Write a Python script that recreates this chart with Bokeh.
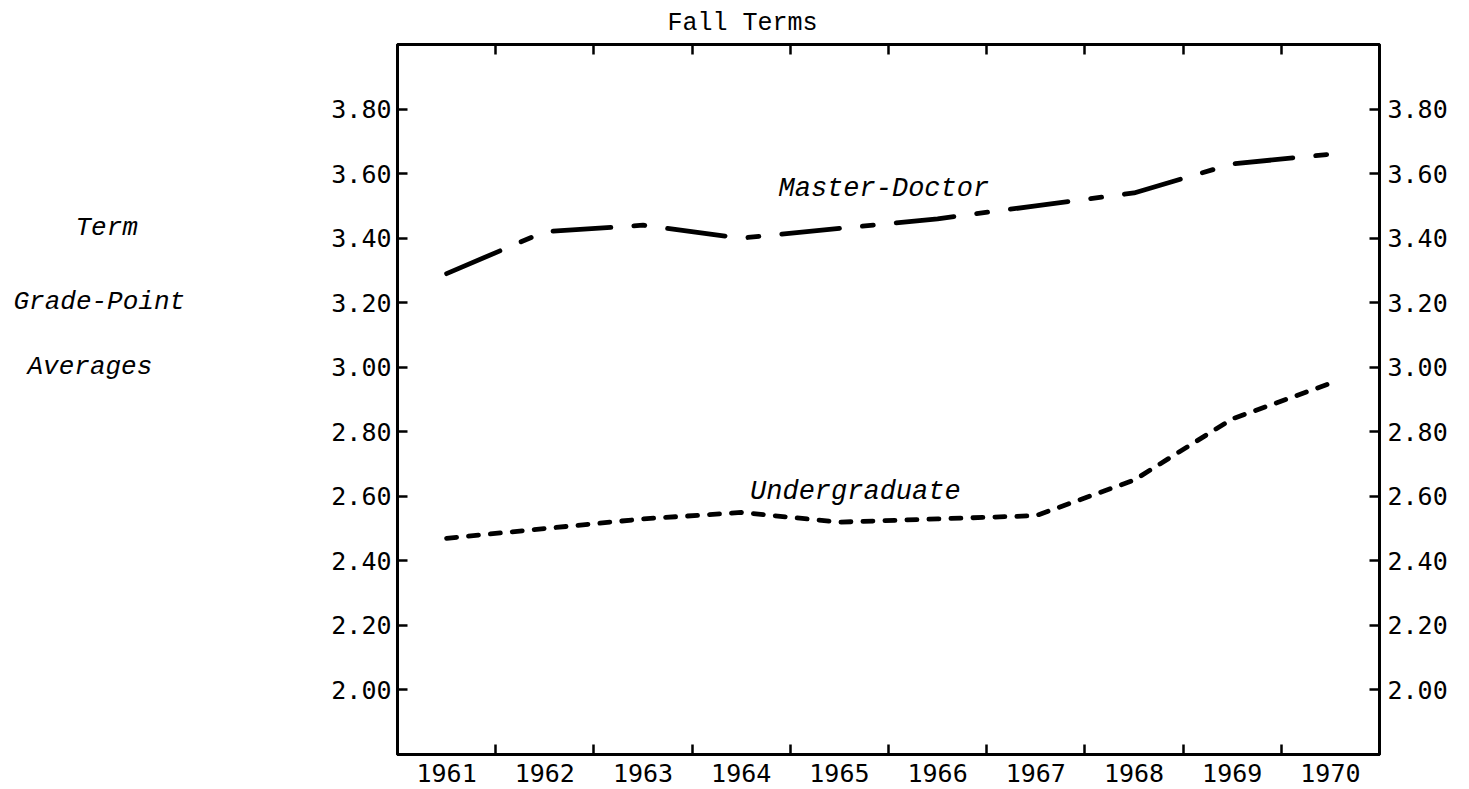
from bokeh.plotting import figure
from bokeh.layouts import row
from bokeh.models import FixedTicker, LinearAxis, Label, Range1d
from bokeh.embed import file_html
from bokeh.resources import INLINE

# ---- data ----
years = [1961, 1962, 1963, 1964, 1965, 1966, 1967, 1968, 1969, 1970]
year_labels = ["1961", "1962", "1963", "1964", "1965", "1966", "1967", "1968", "1969", "1970"]
master_doctor = [3.29, 3.42, 3.44, 3.40, 3.43, 3.46, 3.50, 3.54, 3.63, 3.66]
undergraduate = [2.47, 2.50, 2.53, 2.55, 2.52, 2.53, 2.54, 2.65, 2.84, 2.95]
gpa_ticks = [2.0, 2.2, 2.4, 2.6, 2.8, 3.0, 3.2, 3.4, 3.6, 3.8]
gpa_labels = ["2.00", "2.20", "2.40", "2.60", "2.80", "3.00", "3.20", "3.40", "3.60", "3.80"]
title_text = "Fall Terms"
y_title_lines = ["Term", "Grade-Point", "Averages"]
series_names = ["Master-Doctor", "Undergraduate"]

# band boundaries between the years (tick marks)
boundaries = [y + 0.5 for y in years[:-1]]

TICK_FONT = "DejaVu Sans Mono"
TYPE_FONT = "Liberation Mono"

TOTAL_W, H = 1469, 789
LEFT_W = 320
TOP, BOTTOM = 43, 35

y_range = Range1d(1.8, 4.0)

# ---- left panel holding the stacked y-axis caption ----
side = figure(width=LEFT_W, height=H, output_backend="svg", toolbar_location=None,
              x_range=Range1d(0, LEFT_W), y_range=y_range,
              x_axis_location=None, y_axis_location=None,
              min_border_left=0, min_border_right=0,
              min_border_top=TOP, min_border_bottom=BOTTOM,
              background_fill_color="white", border_fill_color="white")
side.outline_line_color = None
side.xgrid.visible = False
side.ygrid.visible = False
y_title_x = [75, 13, 27]
y_title_y = [3.431, 3.203, 3.0]
for t, xx, yy in zip(y_title_lines, y_title_x, y_title_y):
    side.add_layout(Label(x=xx, y=yy, text=t, text_font=TYPE_FONT,
                          text_font_size="26px", text_font_style="italic", text_color="black",
                          text_baseline="alphabetic", text_align="left"))

# ---- main chart ----
p = figure(width=TOTAL_W - LEFT_W, height=H, output_backend="svg", toolbar_location=None,
           x_range=Range1d(years[0] - 0.5, years[-1] + 0.5), y_range=y_range,
           min_border_left=397 - LEFT_W, min_border_right=TOTAL_W - 1379,
           min_border_top=TOP, min_border_bottom=BOTTOM,
           background_fill_color="white", border_fill_color="white")
p.xgrid.visible = False
p.ygrid.visible = False
p.outline_line_color = "black"
p.outline_line_width = 3

p.title.text = title_text
p.title.align = "left"
p.title.offset = 270
p.title.text_font = TYPE_FONT
p.title.text_font_size = "25px"
p.title.text_font_style = "normal"
p.title.text_color = "black"
p.title.standoff = 13


def base_style(ax):
    ax.axis_line_color = "black"
    ax.axis_line_width = 3
    ax.major_tick_in = 10
    ax.major_tick_out = 0
    ax.major_tick_line_width = 2.5
    ax.major_tick_line_color = "black"
    ax.minor_tick_line_color = None
    ax.major_label_text_font = TICK_FONT
    ax.major_label_text_font_size = "25px"
    ax.major_label_text_color = "black"


# bottom axis: labels at years, tick marks at band boundaries (minor ticks)
xb = p.xaxis[0]
xb.ticker = FixedTicker(ticks=years, minor_ticks=boundaries)
base_style(xb)
xb.major_tick_line_color = None
xb.minor_tick_line_color = "black"
xb.minor_tick_line_width = 2.5
xb.minor_tick_in = 10
xb.minor_tick_out = 0
xb.major_label_overrides = dict(zip(years, year_labels))
xb.major_label_standoff = 9
xb.major_label_text_line_height = 0.9

# top axis: tick marks only
xt = LinearAxis(ticker=FixedTicker(ticks=boundaries))
base_style(xt)
xt.major_label_text_font_size = "0px"
xt.major_label_overrides = {b: "" for b in boundaries}
xt.major_label_standoff = 0
p.add_layout(xt, "above")

# left axis
yl = p.yaxis[0]
yl.ticker = FixedTicker(ticks=gpa_ticks)
base_style(yl)
yl.major_label_overrides = dict(zip(gpa_ticks, gpa_labels))
yl.major_label_standoff = 6

# right axis
yr = LinearAxis(ticker=FixedTicker(ticks=gpa_ticks))
base_style(yr)
yr.major_label_overrides = dict(zip(gpa_ticks, gpa_labels))
yr.major_label_standoff = 8
p.add_layout(yr, "right")

# series
p.line(years, master_doctor, line_color="black", line_width=4.8,
       line_dash="58 23 11 23", line_cap="round", line_join="round")
p.line(years, undergraduate, line_color="black", line_width=4.8,
       line_dash="10 12", line_cap="round", line_join="round")

# series names
p.add_layout(Label(x=1964.38, y=3.552, text=series_names[0], text_font=TYPE_FONT,
                   text_font_size="27px", text_font_style="italic", text_color="black",
                   text_baseline="alphabetic", text_align="left"))
p.add_layout(Label(x=1964.09, y=2.613, text=series_names[1], text_font=TYPE_FONT,
                   text_font_size="27px", text_font_style="italic", text_color="black",
                   text_baseline="alphabetic", text_align="left"))

layout = row(side, p, spacing=0)
open("out.html", "w").write(file_html(layout, INLINE))
